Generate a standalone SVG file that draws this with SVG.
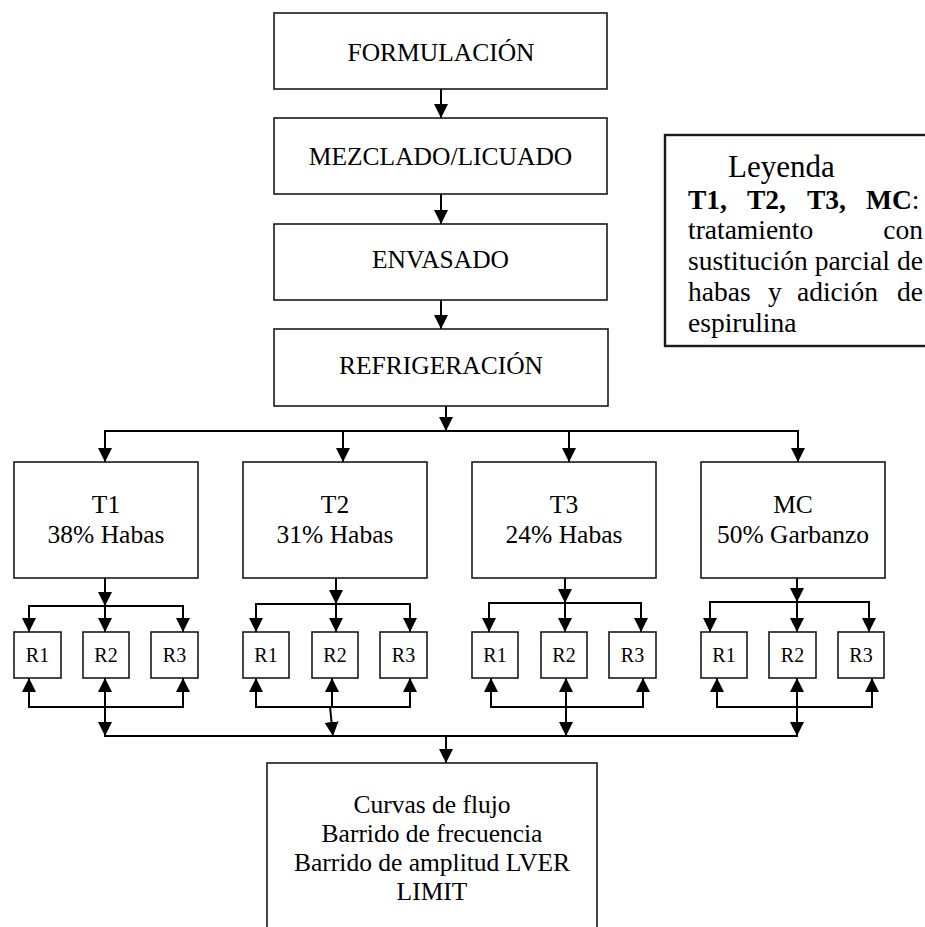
<svg xmlns="http://www.w3.org/2000/svg" width="925" height="927" viewBox="0 0 925 927">
<defs>
<marker id="ah" markerUnits="userSpaceOnUse" markerWidth="14" markerHeight="14" refX="14" refY="7" orient="auto">
<path d="M0,0 L14,7 L0,14 z" fill="#000"/>
</marker>
<style>
.box{fill:#fff;stroke:#1a1a1a;stroke-width:1.6}
.lg{fill:#fff;stroke:#1a1a1a;stroke-width:2.4}
.t{font-family:"Liberation Serif","Times New Roman",serif;font-size:25.5px;fill:#000;text-anchor:middle}
.r{font-family:"Liberation Serif","Times New Roman",serif;font-size:20px;fill:#000;text-anchor:middle}
.l{font-family:"Liberation Serif","Times New Roman",serif;font-size:27.5px;fill:#000}
.c line,.c polyline{stroke:#000;stroke-width:2;fill:none}
.a{marker-end:url(#ah)}
</style>
</defs>
<rect width="925" height="927" fill="#fff"/>

<g class="c" id="connectors">
<line class="a" x1="441" y1="89" x2="441" y2="118"/>
<line class="a" x1="441" y1="194" x2="441" y2="224"/>
<line class="a" x1="441" y1="300" x2="441" y2="329"/>
<line class="a" x1="446" y1="406" x2="446" y2="431"/>
<line x1="104" y1="431" x2="799" y2="431"/>
<line class="a" x1="105" y1="431" x2="105" y2="462"/>
<line class="a" x1="343" y1="431" x2="343" y2="462"/>
<line class="a" x1="569" y1="431" x2="569" y2="462"/>
<line class="a" x1="798" y1="431" x2="798" y2="462"/>

<!-- T1 group -->
<line class="a" x1="105" y1="578" x2="105" y2="606"/>
<line x1="28" y1="606" x2="184" y2="606"/>
<line class="a" x1="29" y1="606" x2="29" y2="632"/>
<line class="a" x1="105" y1="606" x2="105" y2="632"/>
<line class="a" x1="183" y1="606" x2="183" y2="632"/>
<line x1="28" y1="707" x2="184" y2="707"/>
<line class="a" x1="29" y1="707" x2="29" y2="678"/>
<line class="a" x1="105" y1="707" x2="105" y2="678"/>
<line class="a" x1="183" y1="707" x2="183" y2="678"/>
<line class="a" x1="105" y1="707" x2="105" y2="736"/>

<!-- T2 group -->
<line class="a" x1="336" y1="578" x2="336" y2="604"/>
<line x1="255" y1="604" x2="411" y2="604"/>
<line class="a" x1="256" y1="604" x2="256" y2="632"/>
<line class="a" x1="336" y1="604" x2="336" y2="632"/>
<line class="a" x1="410" y1="604" x2="410" y2="632"/>
<line x1="255" y1="707" x2="411" y2="707"/>
<line class="a" x1="256" y1="707" x2="256" y2="678"/>
<line class="a" x1="332" y1="707" x2="332" y2="678"/>
<line class="a" x1="410" y1="707" x2="410" y2="678"/>
<line class="a" x1="330" y1="707" x2="333" y2="736"/>

<!-- T3 group -->
<line class="a" x1="565" y1="578" x2="565" y2="603"/>
<line x1="488" y1="603" x2="642" y2="603"/>
<line class="a" x1="489" y1="603" x2="489" y2="632"/>
<line class="a" x1="565" y1="603" x2="565" y2="632"/>
<line class="a" x1="641" y1="603" x2="641" y2="632"/>
<line x1="490" y1="707" x2="644" y2="707"/>
<line class="a" x1="491" y1="707" x2="491" y2="678"/>
<line class="a" x1="566" y1="707" x2="566" y2="678"/>
<line class="a" x1="643" y1="707" x2="643" y2="678"/>
<line class="a" x1="566" y1="707" x2="566" y2="736"/>

<!-- MC group -->
<line class="a" x1="797" y1="578" x2="797" y2="602"/>
<line x1="709" y1="602" x2="870" y2="602"/>
<line class="a" x1="710" y1="602" x2="710" y2="632"/>
<line class="a" x1="797" y1="602" x2="797" y2="632"/>
<line class="a" x1="869" y1="602" x2="869" y2="632"/>
<line x1="716" y1="707" x2="873" y2="707"/>
<line class="a" x1="717" y1="707" x2="717" y2="678"/>
<line class="a" x1="797" y1="707" x2="797" y2="678"/>
<line class="a" x1="872" y1="707" x2="872" y2="678"/>
<line class="a" x1="797" y1="707" x2="797" y2="736"/>

<line x1="104" y1="736" x2="798" y2="736"/>
<line class="a" x1="446" y1="736" x2="446" y2="763"/>
</g>

<g id="formulacion"><rect class="box" x="274" y="13" width="333" height="76"/><text class="t" x="441" y="61">FORMULACIÓN</text></g>
<g id="mezclado"><rect class="box" x="274" y="118" width="333" height="76"/><text class="t" x="440.5" y="165">MEZCLADO/LICUADO</text></g>
<g id="envasado"><rect class="box" x="274" y="224" width="333" height="76"/><text class="t" x="440.5" y="268">ENVASADO</text></g>
<g id="refrigeracion"><rect class="box" x="274" y="329" width="334" height="77"/><text class="t" x="441" y="374">REFRIGERACIÓN</text></g>

<g id="t1"><rect class="box" x="14" y="462" width="184" height="116"/><text class="t" x="106" y="513">T1</text><text class="t" x="106" y="543">38% Habas</text></g>
<g id="t2"><rect class="box" x="243" y="462" width="184" height="116"/><text class="t" x="335" y="513">T2</text><text class="t" x="335" y="543">31% Habas</text></g>
<g id="t3"><rect class="box" x="472" y="462" width="184" height="116"/><text class="t" x="564" y="513">T3</text><text class="t" x="564" y="543">24% Habas</text></g>
<g id="mc"><rect class="box" x="701" y="462" width="184" height="116"/><text class="t" x="793" y="513">MC</text><text class="t" x="793" y="543">50% Garbanzo</text></g>

<g id="t1r1"><rect class="box" x="14" y="632" width="47" height="46"/><text class="r" x="37.5" y="662">R1</text></g>
<g id="t1r2"><rect class="box" x="83" y="632" width="46" height="46"/><text class="r" x="106" y="662">R2</text></g>
<g id="t1r3"><rect class="box" x="151" y="632" width="47" height="46"/><text class="r" x="174.5" y="662">R3</text></g>
<g id="t2r1"><rect class="box" x="243" y="632" width="46" height="46"/><text class="r" x="266" y="662">R1</text></g>
<g id="t2r2"><rect class="box" x="312" y="632" width="46" height="46"/><text class="r" x="335" y="662">R2</text></g>
<g id="t2r3"><rect class="box" x="380" y="632" width="47" height="46"/><text class="r" x="403.5" y="662">R3</text></g>
<g id="t3r1"><rect class="box" x="472" y="632" width="46" height="46"/><text class="r" x="495" y="662">R1</text></g>
<g id="t3r2"><rect class="box" x="541" y="632" width="46" height="46"/><text class="r" x="564" y="662">R2</text></g>
<g id="t3r3"><rect class="box" x="609" y="632" width="47" height="46"/><text class="r" x="632.5" y="662">R3</text></g>
<g id="mcr1"><rect class="box" x="701" y="632" width="46" height="46"/><text class="r" x="724" y="662">R1</text></g>
<g id="mcr2"><rect class="box" x="769" y="632" width="47" height="46"/><text class="r" x="792.5" y="662">R2</text></g>
<g id="mcr3"><rect class="box" x="838" y="632" width="46" height="46"/><text class="r" x="861" y="662">R3</text></g>

<g id="analisis"><rect class="box" x="267" y="763" width="330" height="175"/>
<text class="t" x="432" y="813">Curvas de flujo</text>
<text class="t" x="432" y="842">Barrido de frecuencia</text>
<text class="t" x="432" y="871">Barrido de amplitud LVER</text>
<text class="t" x="432" y="900">LIMIT</text>
</g>

<g id="leyenda"><rect class="lg" x="665" y="135" width="270" height="211"/>
<text class="l" x="728" y="177" style="font-size:31px">Leyenda</text>
<text class="l" y="209" font-weight="bold"><tspan x="688">T1,</tspan><tspan x="747">T2,</tspan><tspan x="807">T3,</tspan><tspan x="866">MC</tspan><tspan font-weight="normal">:</tspan></text>
<text class="l" y="239"><tspan x="688">tratamiento</tspan></text>
<text class="l" y="239" text-anchor="end" x="923">con</text>
<text class="l" x="688" y="270" textLength="235" lengthAdjust="spacing">sustitución parcial de</text>
<text class="l" y="301"><tspan x="688">habas</tspan><tspan x="768">y</tspan><tspan x="797">adición</tspan></text>
<text class="l" y="301" text-anchor="end" x="923">de</text>
<text class="l" x="688" y="332">espirulina</text>
</g>
</svg>
